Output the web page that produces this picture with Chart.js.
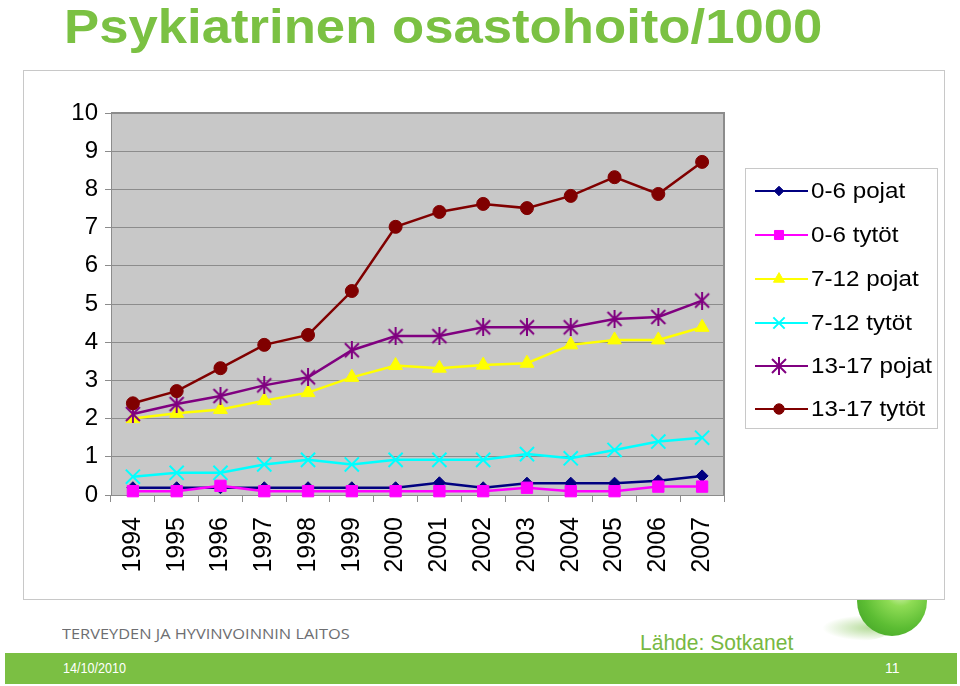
<!DOCTYPE html>
<html>
<head>
<meta charset="utf-8">
<script src="https://cdn.jsdelivr.net/npm/chart.js@4.4.0/dist/chart.umd.min.js"></script>
<style>
  body { margin: 0; width: 960px; height: 686px; background: #fff; position: relative; overflow: hidden;
         font-family: "Liberation Sans", Arial, sans-serif; }
  .abs { position: absolute; white-space: nowrap; transform-origin: 0 0; }
  #title { left: 64px; top: -2px; font-weight: bold; font-size: 49px; line-height: 56px; color: #7BC143; }
  #shadow { left: 822px; top: 615px; width: 70px; height: 26px; border-radius: 50%;
            background: radial-gradient(ellipse at 70% 50%, rgba(120,190,70,0.55), rgba(120,190,70,0) 70%); }
  #logo { left: 857px; top: 566px; width: 70px; height: 70px; border-radius: 50%;
          background: radial-gradient(circle at 62% 35%, #e4f7c8 0%, #8fdc55 25%, #5cbd33 60%, #3a9a22 100%); }
  #box { left: 23px; top: 70px; width: 922px; height: 530px; border: 1px solid #c8c8c8; box-sizing: border-box; background: #fff; }
  #org { left: 62px; top: 623px; font-family: "Open Sans", sans-serif; font-size: 15px; line-height: 20px; color: #6d6e71; }
  #source { left: 640px; top: 632px; font-size: 22px; line-height: 22px; color: #77B843; }
  #bar { left: 5px; top: 653px; width: 952px; height: 31px; background: #7BBF43; }
  #date { left: 63px; top: 661px; font-size: 14px; line-height: 14px; color: #fff; }
  #page { left: 885px; top: 661px; font-size: 14px; line-height: 14px; color: #fff; }
</style>
</head>
<body>
<div id="title" class="abs">Psykiatrinen osastohoito/1000</div>
<div id="shadow" class="abs"></div>
<div id="logo" class="abs"></div>
<div id="box" class="abs"><canvas id="chart" width="920" height="528"></canvas></div>
<div id="org" class="abs">TERVEYDEN JA HYVINVOINNIN LAITOS</div>
<div id="source" class="abs">Lähde: Sotkanet</div>
<div id="bar" class="abs"></div>
<div id="date" class="abs">14/10/2010</div>
<div id="page" class="abs">11</div>
<script>
// values (per 1000)
const years = ['1994', '1995', '1996', '1997', '1998', '1999', '2000', '2001', '2002', '2003', '2004', '2005', '2006', '2007'];
const seriesNames = ['0-6 pojat', '0-6 tytöt', '7-12 pojat', '7-12 tytöt', '13-17 pojat', '13-17 tytöt'];
const boys0to6 = [0.19, 0.19, 0.19, 0.19, 0.19, 0.19, 0.19, 0.32, 0.19, 0.31, 0.31, 0.31, 0.37, 0.50];
const girls0to6 = [0.10, 0.10, 0.24, 0.10, 0.10, 0.10, 0.10, 0.10, 0.10, 0.19, 0.10, 0.10, 0.22, 0.22];
const boys7to12 = [2.00, 2.14, 2.24, 2.47, 2.68, 3.08, 3.39, 3.32, 3.40, 3.45, 3.93, 4.06, 4.06, 4.39];
const girls7to12 = [0.48, 0.58, 0.58, 0.80, 0.92, 0.80, 0.92, 0.92, 0.92, 1.07, 0.96, 1.18, 1.40, 1.50];
const boys13to17 = [2.12, 2.38, 2.59, 2.87, 3.08, 3.79, 4.16, 4.16, 4.39, 4.39, 4.39, 4.61, 4.66, 5.09];
const girls13to17 = [2.40, 2.72, 3.32, 3.93, 4.19, 5.34, 7.02, 7.41, 7.62, 7.51, 7.83, 8.32, 7.88, 8.72];
const yMin = 0, yMax = 10, yStep = 1;

// stretch html texts to the widths on the slide
function fit(id, w) {
    const el = document.getElementById(id);
    el.style.transform = 'scaleX(' + (w / el.offsetWidth) + ')';
}
fit('title', 758);
fit('org', 288);
fit('source', 153);
fit('date', 63);

// excel style star: an X plus a vertical bar
function makeStar(color, size) {
    const c = document.createElement('canvas');
    c.width = size; c.height = size;
    const g = c.getContext('2d');
    g.strokeStyle = color;
    g.lineWidth = 2;
    const m = size / 2, r = size / 2 - 2;
    g.beginPath();
    g.moveTo(m - r, m - r); g.lineTo(m + r, m + r);
    g.moveTo(m + r, m - r); g.lineTo(m - r, m + r);
    g.moveTo(m, 0); g.lineTo(m, size);
    g.stroke();
    return c;
}

const colors = ['#000080', '#FF00FF', '#FFFF00', '#00FFFF', '#800080', '#800000'];
const styles = ['rectRot', 'rect', 'triangle', 'crossRot', makeStar('#800080', 18), 'circle'];
const radii = [6, 8, 8, 10, 8, 6.5];
const values = [boys0to6, girls0to6, boys7to12, girls7to12, boys13to17, girls13to17];

const datasets = values.map((v, i) => ({
    label: seriesNames[i],
    data: v,
    borderColor: colors[i],
    backgroundColor: colors[i],
    borderWidth: 2.5,
    pointStyle: styles[i],
    pointRadius: radii[i],
    pointBorderWidth: (i === 3) ? 2 : 1,
    pointBackgroundColor: colors[i],
    pointBorderColor: colors[i],
    tension: 0,
    clip: false,
    order: 5 - i
}));

const plotBg = {
    id: 'plotBg',
    beforeDraw(chart) {
        const {ctx, chartArea: a} = chart;
        ctx.save();
        ctx.fillStyle = '#c8c8c8';
        ctx.fillRect(a.left, a.top, a.right - a.left, a.bottom - a.top);
        ctx.restore();
    },
    beforeDatasetsDraw(chart) {
        const {ctx, chartArea: a} = chart;
        ctx.save();
        ctx.strokeStyle = '#8c8c8c';
        ctx.lineWidth = 2;
        ctx.beginPath();
        ctx.moveTo(a.left, a.top);
        ctx.lineTo(a.right, a.top);
        ctx.lineTo(a.right, a.bottom);
        ctx.stroke();
        ctx.restore();
    }
};

// legend box like the excel one: line + marker, then the name
const sideLegend = {
    id: 'sideLegend',
    afterDraw(chart) {
        const ctx = chart.ctx;
        const bx = 721, by = 97, bw = 192, bh = 260;
        ctx.save();
        ctx.fillStyle = '#fff';
        ctx.fillRect(bx, by, bw, bh);
        ctx.strokeStyle = '#c8c8c8';
        ctx.lineWidth = 1;
        ctx.strokeRect(bx + 0.5, by + 0.5, bw, bh);
        const rows = [120, 164, 208, 252, 295, 338];
        chart.data.datasets.forEach((ds, i) => {
            const y = rows[i];
            ctx.strokeStyle = ds.borderColor;
            ctx.lineWidth = 2;
            ctx.beginPath();
            ctx.moveTo(731, y);
            ctx.lineTo(784, y);
            ctx.stroke();
            ctx.fillStyle = ds.pointBackgroundColor;
            ctx.strokeStyle = ds.pointBorderColor;
            ctx.lineWidth = ds.pointBorderWidth;
            Chart.helpers.drawPoint(ctx, {
                pointStyle: ds.pointStyle,
                radius: ds.pointRadius * 0.8,
                borderWidth: ds.pointBorderWidth,
                rotation: 0
            }, 755, y);
            ctx.save();
            ctx.translate(787, y);
            ctx.scale(1.1, 1);
            ctx.fillStyle = '#000';
            ctx.font = '22px "Liberation Sans", Arial, sans-serif';
            ctx.textBaseline = 'middle';
            ctx.fillText(ds.label, 0, 1);
            ctx.restore();
        });
        ctx.restore();
    }
};

const ctx = document.getElementById('chart').getContext('2d');
const chart = new Chart(ctx, {
    type: 'line',
    data: { labels: years, datasets: datasets },
    options: {
        responsive: false,
        animation: false,
        layout: { padding: { top: 42, right: 220, left: 0, bottom: 0 } },
        plugins: { legend: { display: false }, tooltip: { enabled: false } },
        scales: {
            x: {
                offset: true,
                grid: { offset: true, drawOnChartArea: false, tickLength: 7, color: '#8c8c8c' },
                border: { color: '#8c8c8c', width: 1 },
                ticks: { minRotation: 90, maxRotation: 90, padding: 15, color: '#000',
                         font: { family: '"Liberation Sans", Arial, sans-serif', size: 25 } },
                afterFit(scale) { scale.height = 104; }
            },
            y: {
                min: yMin,
                max: yMax,
                grid: { color: '#8c8c8c', tickLength: 6, tickColor: '#8c8c8c' },
                border: { color: '#8c8c8c', width: 1 },
                ticks: { stepSize: yStep, padding: 7, color: '#000',
                         font: { family: '"Liberation Sans", Arial, sans-serif', size: 24 } },
                afterFit(scale) { scale.width = 87; }
            }
        }
    },
    plugins: [plotBg, sideLegend]
});
</script>
</body>
</html>
